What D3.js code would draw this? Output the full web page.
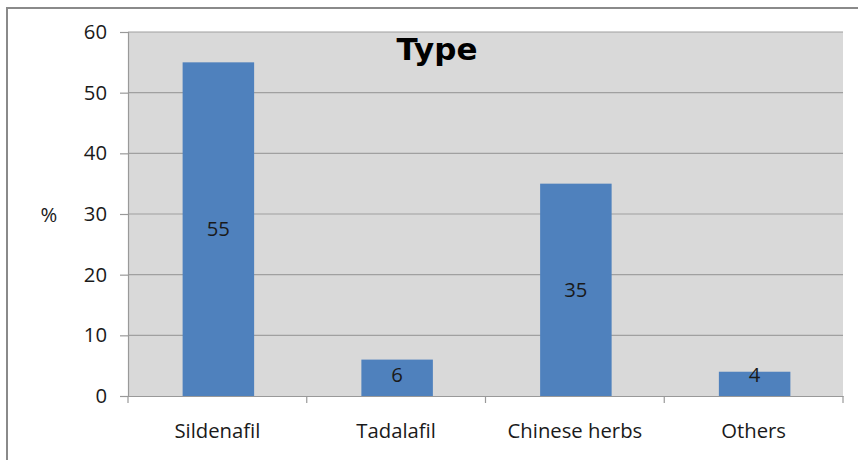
<!DOCTYPE html>
<html><head><meta charset="utf-8">
<script src="https://cdn.jsdelivr.net/npm/d3@7"></script>
<style>body{margin:0;background:#fff}svg{display:block}</style>
</head><body>
<script>
const categories = ["Sildenafil","Tadalafil","Chinese herbs","Others"];
const values = [55,6,35,4];
const yTicks = [0,10,20,30,40,50,60];
const title = "Type";
const yLabel = "%";

const W=858,H=460;
const FONT="Open Sans";
const FS=20.3;
const svg=d3.select("body").append("svg").attr("width",W).attr("height",H);
const m={l:128,t:32,r:843,b:396};
svg.append("rect").attr("x",7).attr("y",8).attr("width",W).attr("height",H).attr("fill","#fff").attr("stroke","#8a8a8a").attr("stroke-width",2);

const x=d3.scaleBand().domain(categories).range([m.l,m.r]).padding(0);
const y=d3.scaleLinear().domain([0,60]).range([m.b,m.t]);

svg.append("rect").attr("x",m.l).attr("y",m.t).attr("width",m.r-m.l).attr("height",m.b-m.t).attr("fill","#d9d9d9");

// gridlines
svg.append("g").selectAll("line").data(yTicks.filter(d=>d>0)).join("line")
 .attr("x1",m.l).attr("x2",m.r).attr("y1",d=>y(d)).attr("y2",d=>y(d))
 .attr("stroke","#a0a0a0").attr("stroke-width",1.2);

// y axis
const ya=svg.append("g").attr("transform",`translate(${m.l},0)`)
 .call(d3.axisLeft(y).tickValues(yTicks).tickSize(8).tickPadding(13));
ya.select(".domain").attr("stroke","#999").attr("stroke-width",1.2);
ya.selectAll(".tick line").attr("stroke","#999").attr("stroke-width",1.2);
ya.selectAll("text").attr("font-family",FONT).attr("font-size",FS).attr("fill","#1a1a1a");

// x axis
const xa=svg.append("g").attr("transform",`translate(0,${m.b})`)
 .call(d3.axisBottom(x).tickSize(0));
xa.select(".domain").attr("stroke","#999").attr("stroke-width",1.2);
xa.selectAll("text").attr("y",42).attr("dy",0).attr("font-family",FONT).attr("font-size",FS).attr("fill","#1a1a1a");
const bounds=[...categories.map(c=>x(c)),m.r];
xa.append("g").selectAll("line").data(bounds).join("line")
 .attr("x1",d=>d).attr("x2",d=>d).attr("y1",0).attr("y2",7).attr("stroke","#999").attr("stroke-width",1.2);

// bars
const bw=x.bandwidth()*0.4;
svg.append("g").selectAll("rect").data(values).join("rect")
 .attr("x",(d,i)=>x(categories[i])+x.bandwidth()/2-bw/2+1)
 .attr("width",bw).attr("y",d=>y(d)).attr("height",d=>y(0)-y(d))
 .attr("fill","#4f81bd");

svg.append("g").selectAll("text").data(values).join("text")
 .attr("x",(d,i)=>x(categories[i])+x.bandwidth()/2+1)
 .attr("y",d=>Math.min((y(d)+y(0))/2, y(0)-21))
 .attr("dy","0.35em").attr("text-anchor","middle")
 .attr("font-family",FONT).attr("font-size",FS).attr("fill","#1a1a1a").text(d=>d);

svg.append("text").attr("x",437).attr("y",60).attr("text-anchor","middle")
 .attr("font-family","DejaVu Sans").attr("font-weight","bold").attr("font-size",31).text(title);

svg.append("text").attr("x",49).attr("y",215).attr("dy","0.35em").attr("text-anchor","middle")
 .attr("font-family",FONT).attr("font-size",FS).attr("fill","#1a1a1a").text(yLabel);
</script>
</body></html>
